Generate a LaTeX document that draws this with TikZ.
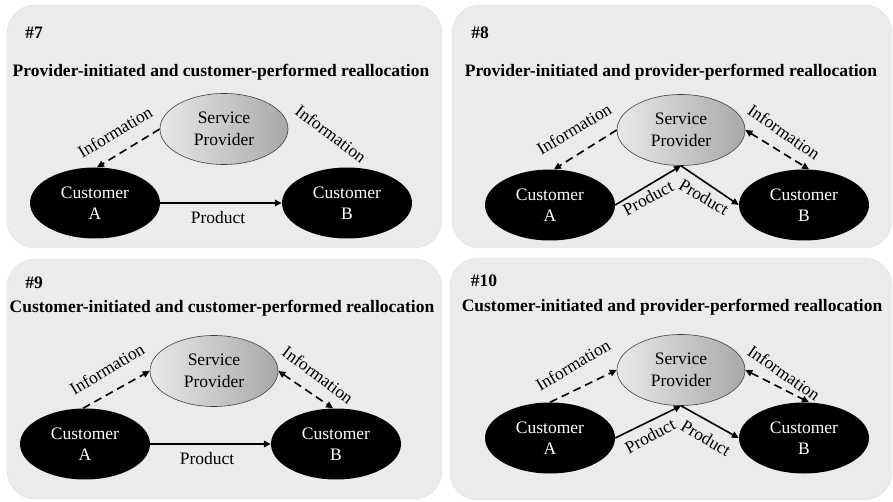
\documentclass[tikz,border=0pt]{standalone}
\usepackage{fontspec}
\setmainfont{Liberation Serif}
\usetikzlibrary{shapes.geometric,arrows.meta}
\definecolor{panelgray}{HTML}{EBEBEB}
\newcommand{\fs}{\fontsize{17.5}{21.5}\selectfont}
\tikzset{
  panel/.style={fill=panelgray, draw=gray!25, line width=0.4pt, rounded corners=28pt},
  spnode/.style={ellipse, draw=gray!50!black, line width=0.6pt, left color=gray!18, right color=gray!68,
    minimum width=128pt, minimum height=71pt, inner sep=0pt, align=center, font=\fs},
  cust/.style={ellipse, fill=black, text=white, minimum width=130pt, minimum height=71pt,
    inner sep=0pt, align=center, font=\fs},
  info/.style={line width=1.6pt, dash pattern=on 8pt off 5pt},
  prod/.style={line width=1.6pt},
  tipend/.style={-{Triangle[length=7pt,width=6.5pt]}},
  tipboth/.style={{Triangle[length=7pt,width=6.5pt]}-{Triangle[length=7pt,width=6.5pt]}},
  lbl/.style={font=\fs, inner sep=0pt},
  ttl/.style={font=\fs\bfseries, inner sep=0pt},
}
\begin{document}
\begin{tikzpicture}[x=1pt,y=-1pt]
\useasboundingbox (0,0) rectangle (893,502);
% panels
\path[panel] (7,5) rectangle (442,248);
\path[panel] (452,5) rectangle (892,248);
\path[panel] (7,259) rectangle (442,499);
\path[panel] (450,258) rectangle (892,500);

% ---------- #7 ----------
\node[ttl] (n7) at (34,33) {\#7};
\node[ttl] (t7) at (221,72) {Provider-initiated and customer-performed reallocation};
\node[spnode] (sp7) at (224,129) {Service\\Provider};
\node[cust] (a7) at (95,203) {Customer\\A};
\node[cust] (b7) at (347,203) {Customer\\B};
\draw[info,tipend] (sp7.west) -- ([xshift=2pt]a7.north);
\draw[prod,tipend] (a7.east) -- (b7.west);
\node[lbl,rotate=31] (i7a) at (115,132) {Information};
\node[lbl,rotate=-37] (i7b) at (331,134) {Information};
\node[lbl] (p7) at (218,218) {Product};

% ---------- #8 ----------
\node[ttl] (n8) at (480,33) {\#8};
\node[ttl] (t8) at (671,72) {Provider-initiated and provider-performed reallocation};
\node[spnode] (sp8) at (681,130) {Service\\Provider};
\node[cust] (a8) at (550,205) {Customer\\A};
\node[cust] (b8) at (804,205) {Customer\\B};
\draw[info,tipend] (sp8.west) -- ([xshift=4pt]a8.north);
\draw[info,tipboth] (sp8.east) -- ([xshift=5pt]b8.north);
\draw[prod,tipend] (a8.east) -- (sp8.south);
\draw[prod,tipend] (sp8.south) -- (b8.west);
\node[lbl,rotate=31] (i8a) at (574,129) {Information};
\node[lbl,rotate=-35] (i8b) at (784,132) {Information};
\node[lbl,rotate=28] (p8a) at (648,198) {Product};
\node[lbl,rotate=-31] (p8b) at (704,197) {Product};

% ---------- #9 ----------
\node[ttl] (n9) at (34,283) {\#9};
\node[ttl] (t9) at (222,308) {Customer-initiated and customer-performed reallocation};
\node[spnode] (sp9) at (214,371) {Service\\Provider};
\node[cust] (a9) at (85,444) {Customer\\A};
\node[cust] (b9) at (336,444) {Customer\\B};
\draw[info,tipend] ([xshift=-2pt]a9.north) -- (sp9.west);
\draw[info,tipboth] (sp9.east) -- ([xshift=-3pt]b9.north);
\draw[prod,tipend] (a9.east) -- (b9.west);
\node[lbl,rotate=31] (i9a) at (107,369) {Information};
\node[lbl,rotate=-37] (i9b) at (318,375) {Information};
\node[lbl] (p9) at (207,459) {Product};

% ---------- #10 ----------
\node[ttl] (n10) at (484,281) {\#10};
\node[ttl] (t10) at (672,307) {Customer-initiated and provider-performed reallocation};
\node[spnode] (sp10) at (681,370) {Service\\Provider};
\node[cust] (a10) at (550,438) {Customer\\A};
\node[cust] (b10) at (804,438) {Customer\\B};
\draw[info,tipend] (a10.north) -- (sp10.west);
\draw[info,tipboth] (sp10.east) -- ([xshift=5pt]b10.north);
\draw[prod,tipend] (a10.east) -- (sp10.south);
\draw[prod,tipend] (sp10.south) -- (b10.west);
\node[lbl,rotate=31] (i10a) at (573,365) {Information};
\node[lbl,rotate=-35] (i10b) at (784,373) {Information};
\node[lbl,rotate=28] (p10a) at (650,436) {Product};
\node[lbl,rotate=-31] (p10b) at (706,438) {Product};
\end{tikzpicture}
\end{document}
